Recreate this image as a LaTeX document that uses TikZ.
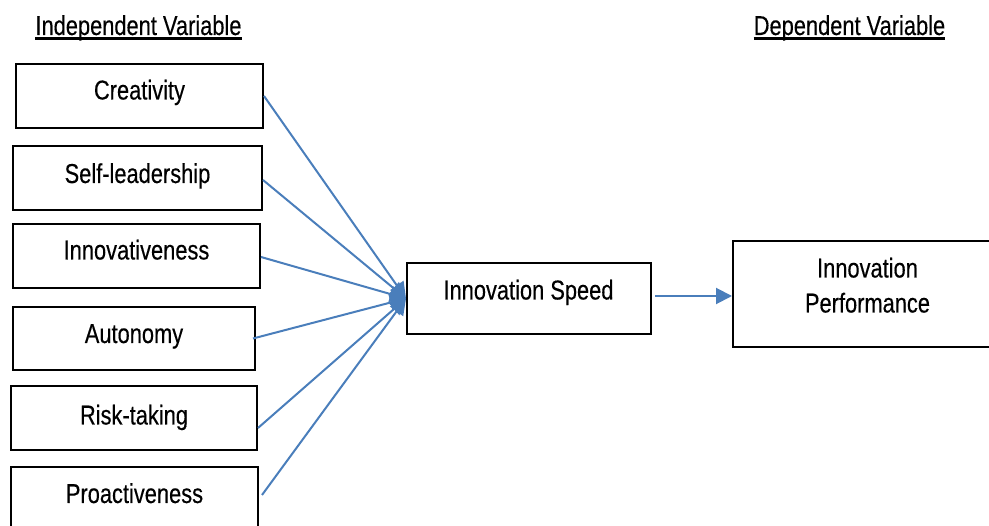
\documentclass[tikz,border=0pt]{standalone}
\usepackage{fontspec}
\setmainfont{Liberation Sans}[FakeStretch=0.8,FakeBold=0.3]
\usetikzlibrary{arrows.meta}
\definecolor{linkblue}{RGB}{74,126,187}
\tikzset{
  varbox/.style={draw=black, line width=2pt, inner sep=0pt, fill=white},
  lbl/.style={inner sep=0pt, anchor=base, font=\fontsize{27.3}{32}\selectfont},
  link/.style={draw=linkblue, line width=2pt,
    -{Triangle[length=16pt,width=16pt]}},
  uline/.style={line width=2.2pt}
}
\begin{document}
\begin{tikzpicture}[x=1pt,y=-1pt]
  \useasboundingbox (0,0) rectangle (989,526);
  \clip (0,0) rectangle (989,526);

  % column headings
  \node[lbl] (hin) at (138.5,35) {Independent Variable};
  \node[lbl] (hdep) at (849.5,35) {Dependent Variable};
  \draw[uline] ([yshift=-3.5pt]hin.base west) -- ([yshift=-3.5pt]hin.base east);
  \draw[uline] ([yshift=-3.5pt]hdep.base west) -- ([yshift=-3.5pt]hdep.base east);

  % independent variable boxes
  \node[varbox, minimum width=247pt, minimum height=64pt] (cre) at (139.5,96) {};
  \node[varbox, minimum width=249pt, minimum height=64pt] (sel) at (137.5,178) {};
  \node[varbox, minimum width=247pt, minimum height=64pt] (inn) at (136.5,256) {};
  \node[varbox, minimum width=242pt, minimum height=63pt] (aut) at (134,338.5) {};
  \node[varbox, minimum width=246pt, minimum height=64pt] (rsk) at (134,418) {};
  \node[varbox, minimum width=247pt, minimum height=64pt] (pro) at (134.5,499) {};

  \node[lbl] (cre-t) at (139.5,99.5) {Creativity};
  \node[lbl] (sel-t) at (137.5,183) {Self-leadership};
  \node[lbl] (inn-t) at (136.5,259.5) {Innovativeness};
  \node[lbl] (aut-t) at (134,343) {Autonomy};
  \node[lbl] (rsk-t) at (134,424.5) {Risk-taking};
  \node[lbl] (pro-t) at (134.5,503) {Proactiveness};

  % mediator and outcome
  \node[varbox, minimum width=244pt, minimum height=71pt] (spd) at (529,298.5) {};
  \node[lbl] (spd-t) at (528.5,299.5) {Innovation Speed};

  \node[varbox, minimum width=270pt, minimum height=106pt] (perf) at (868,294) {};
  \node[lbl] (perf-t1) at (867.5,277.5) {Innovation};
  \node[lbl] (perf-t2) at (867.5,312.5) {Performance};

  % paths
  \draw[link] (cre.east) -- (spd.west);
  \draw[link] ([yshift=-2pt]sel.east) -- (spd.west);
  \draw[link] ([yshift=-1pt]inn.east) -- (spd.west);
  \draw[link] ([xshift=-3pt]aut.east) -- (spd.west);
  \draw[link] ([yshift=-10pt]rsk.east) -- (spd.west);
  \draw[link] ([xshift=3pt,yshift=4pt]pro.east) -- (spd.west);
  \draw[link] ([xshift=3pt,yshift=2.5pt]spd.east) -- ([yshift=-2pt]perf.west);
\end{tikzpicture}
\end{document}
